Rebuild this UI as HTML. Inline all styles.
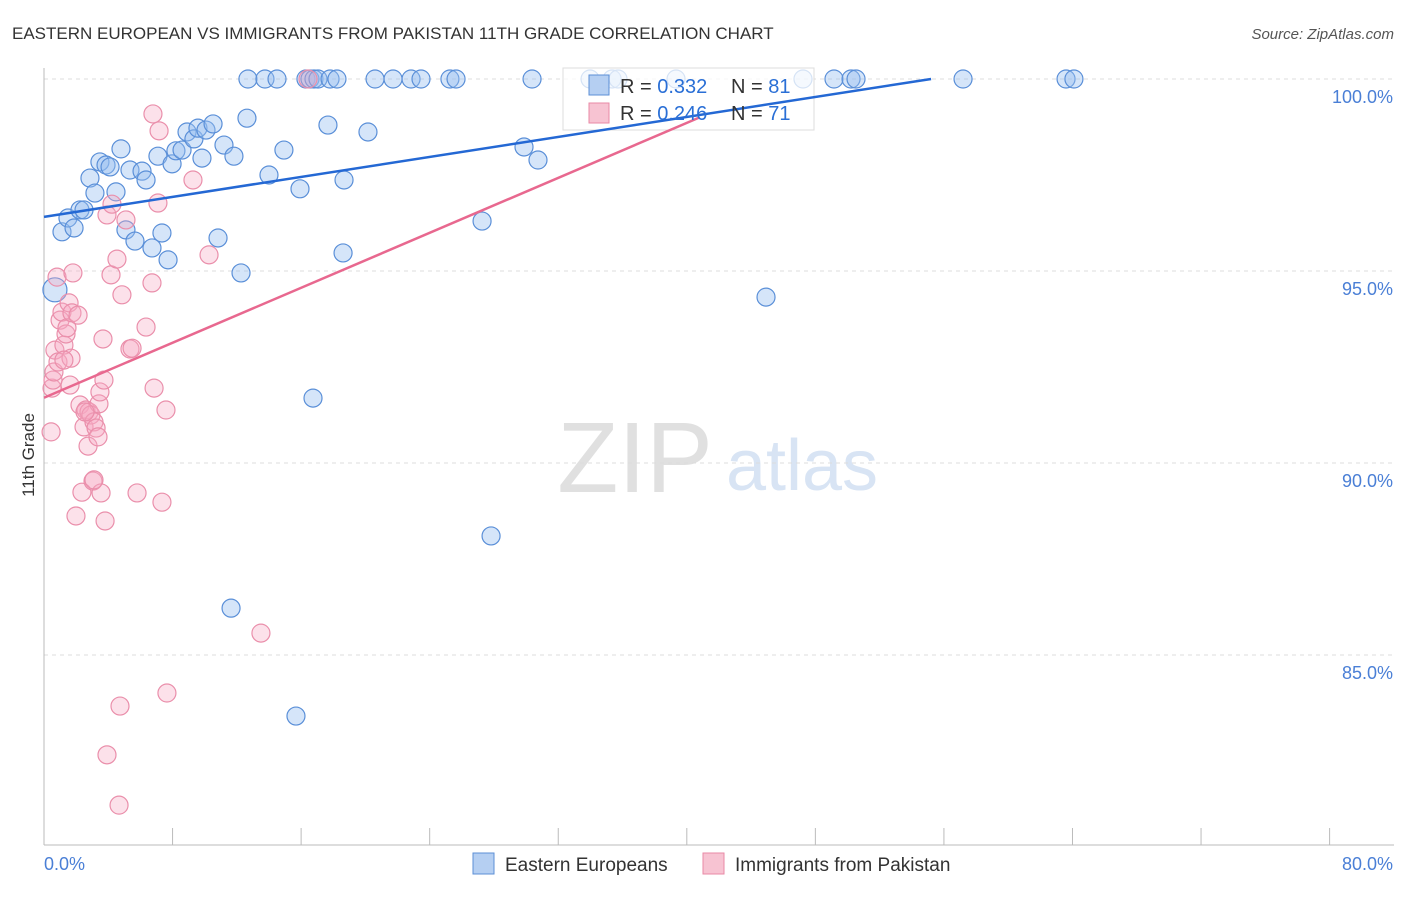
<!DOCTYPE html>
<html><head><meta charset="utf-8"><style>
body{margin:0;background:#fff;font-family:"Liberation Sans",sans-serif}
svg text{font-family:"Liberation Sans",sans-serif}
</style></head><body>
<svg id="c" width="1406" height="892">
<text x="12" y="39" font-size="17" fill="#333">EASTERN EUROPEAN VS IMMIGRANTS FROM PAKISTAN 11TH GRADE CORRELATION CHART</text>
<text x="1394" y="39" font-size="15" fill="#555" text-anchor="end" font-style="italic">Source: ZipAtlas.com</text>
<text x="34" y="455" font-size="17" fill="#333" transform="rotate(-90 34 455)" text-anchor="middle">11th Grade</text>
<text x="635" y="492" font-size="100" fill="#e0e0e0" font-family="Liberation Serif" text-anchor="middle">ZIP</text>
<text x="802" y="490" font-size="72" fill="#d8e4f4" text-anchor="middle">atlas</text>
<g id="grid"></g><g id="pts"></g>
<rect x="563" y="68" width="251" height="62" fill="rgba(255,255,255,0.75)" stroke="#ddd"/>
<g id="lines"></g>
<rect x="589" y="75" width="20" height="20" fill="#b5cff2" stroke="#5c8fd6"/>
<text x="620" y="93" font-size="20" fill="#333">R = <tspan fill="#2a6fd6">0.332</tspan></text>
<text x="731" y="93" font-size="20" fill="#333">N = <tspan fill="#2a6fd6">81</tspan></text>
<rect x="589" y="103" width="20" height="20" fill="#f7c3d2" stroke="#e88aa6"/>
<text x="620" y="120" font-size="20" fill="#333">R = <tspan fill="#2a6fd6">0.246</tspan></text>
<text x="731" y="120" font-size="20" fill="#333">N = <tspan fill="#2a6fd6">71</tspan></text>
<rect x="473" y="853" width="21" height="21" fill="#b5cff2" stroke="#5c8fd6"/>
<text x="505" y="871" font-size="19" fill="#333">Eastern Europeans</text>
<rect x="703" y="853" width="21" height="21" fill="#f7c3d2" stroke="#e88aa6"/>
<text x="735" y="871" font-size="19" fill="#333">Immigrants from Pakistan</text>
</svg>
<script>
const yTicks=[100,95,90,85];
const yTickLabels=["100.0%","95.0%","90.0%","85.0%"];
const xTicks=[0,8,16,24,32,40,48,56,64,72,80];
const bluePx=[[55,290],[62,232],[68,218],[74,228],[80,210],[84,210],[90,178],[95,193],[100,162],[106,165],[110,167],[116,192],[121,149],[126,230],[130,170],[135,241],[142,171],[146,180],[152,248],[158,156],[162,233],[168,260],[172,164],[176,151],[182,150],[187,132],[194,139],[198,128],[202,158],[206,130],[213,124],[218,238],[224,145],[234,156],[241,273],[247,118],[248,79],[265,79],[269,175],[277,79],[284,150],[300,189],[306,79],[310,79],[314,79],[318,79],[313,398],[328,125],[330,79],[337,79],[344,180],[343,253],[368,132],[375,79],[393,79],[411,79],[421,79],[450,79],[456,79],[482,221],[491,536],[524,147],[532,79],[538,160],[590,79],[612,79],[618,79],[676,79],[766,297],[803,79],[834,79],[851,79],[856,79],[963,79],[1066,79],[1074,79],[231,608],[296,716]];
const pinkPx=[[51,432],[52,388],[53,380],[54,372],[55,350],[57,277],[58,362],[60,320],[62,312],[64,345],[66,334],[67,328],[69,303],[71,358],[72,313],[73,273],[76,516],[78,315],[80,405],[82,492],[84,427],[86,410],[88,446],[89,412],[91,415],[93,481],[94,422],[96,428],[98,437],[99,404],[100,392],[101,493],[103,339],[105,521],[107,215],[111,275],[112,204],[117,259],[120,706],[119,805],[122,295],[126,220],[104,380],[130,349],[132,348],[137,493],[146,327],[153,114],[154,388],[152,283],[158,203],[159,131],[162,502],[166,410],[167,693],[193,180],[209,255],[107,755],[261,633],[308,79],[70,385],[85,412],[94,480],[64,360]];
const blueX=bluePx.map(p=>+((p[0]-44)/16.07).toFixed(2)), blueY=bluePx.map(p=>+(100-(p[1]-79)/38.4).toFixed(2));
const pinkX=pinkPx.map(p=>+((p[0]-44)/16.07).toFixed(2)), pinkY=pinkPx.map(p=>+(100-(p[1]-79)/38.4).toFixed(2));
const blueTrend=[[0,96.41],[55.2,100]];
const pinkTrend=[[0,91.7],[40.8,99.0]];
const X=v=>44+v*16.07, Y=v=>79+(100-v)*38.4;
const NS="http://www.w3.org/2000/svg";
function mk(t,a,p){const e=document.createElementNS(NS,t);for(const k in a)e.setAttribute(k,a[k]);p.appendChild(e);return e;}
const g=document.getElementById('grid');
yTicks.forEach((t,i)=>{
 const l=mk('line',{x1:44,x2:1394,y1:Y(t),y2:Y(t),stroke:'#ddd','stroke-dasharray':'4 4'},g);
 
 
 const tx=mk('text',{x:1393,y:Y(t)+24,'font-size':18,fill:'#4a7fd6','text-anchor':'end'},g);tx.textContent=yTickLabels[i];
 
 
});
const ax=mk('line',{x1:44,x2:44,y1:68,y2:845,stroke:'#bbb'},g);


const bx=mk('line',{x1:44,x2:1394,y1:845,y2:845,stroke:'#bbb'},g);


xTicks.forEach(t=>{const l=mk('line',{x1:X(t),x2:X(t),y1:828,y2:845,stroke:'#bbb'},g);
 
 });
[[0,"0.0%","start"],[80,"80.0%","end"]].forEach(d=>{const tx=mk('text',{x:d[0]==0?44:1393,y:870,'font-size':18,fill:'#4a7fd6','text-anchor':d[2]},g);tx.textContent=d[1];
 
 });
const pg=document.getElementById('pts');
blueX.forEach((x,i)=>{const c=mk('circle',{cx:X(x),cy:Y(blueY[i]),r:i==0?12:9,fill:'rgba(150,190,240,0.4)',stroke:'#5a8fd8','stroke-width':1.2},pg);
 
 });
pinkX.forEach((x,i)=>{const c=mk('circle',{cx:X(x),cy:Y(pinkY[i]),r:9,fill:'rgba(245,170,195,0.35)',stroke:'#ea8fab','stroke-width':1.2},pg);
 
 });
const lg=document.getElementById('lines');
const b=mk('line',{x1:X(blueTrend[0][0]),y1:Y(blueTrend[0][1]),x2:X(blueTrend[1][0]),y2:Y(blueTrend[1][1]),stroke:'#2468d4','stroke-width':2.5},lg);


const p=mk('line',{x1:X(pinkTrend[0][0]),y1:Y(pinkTrend[0][1]),x2:X(pinkTrend[1][0]),y2:Y(pinkTrend[1][1]),stroke:'#e8688f','stroke-width':2.5},lg);


</script>
</body></html>
